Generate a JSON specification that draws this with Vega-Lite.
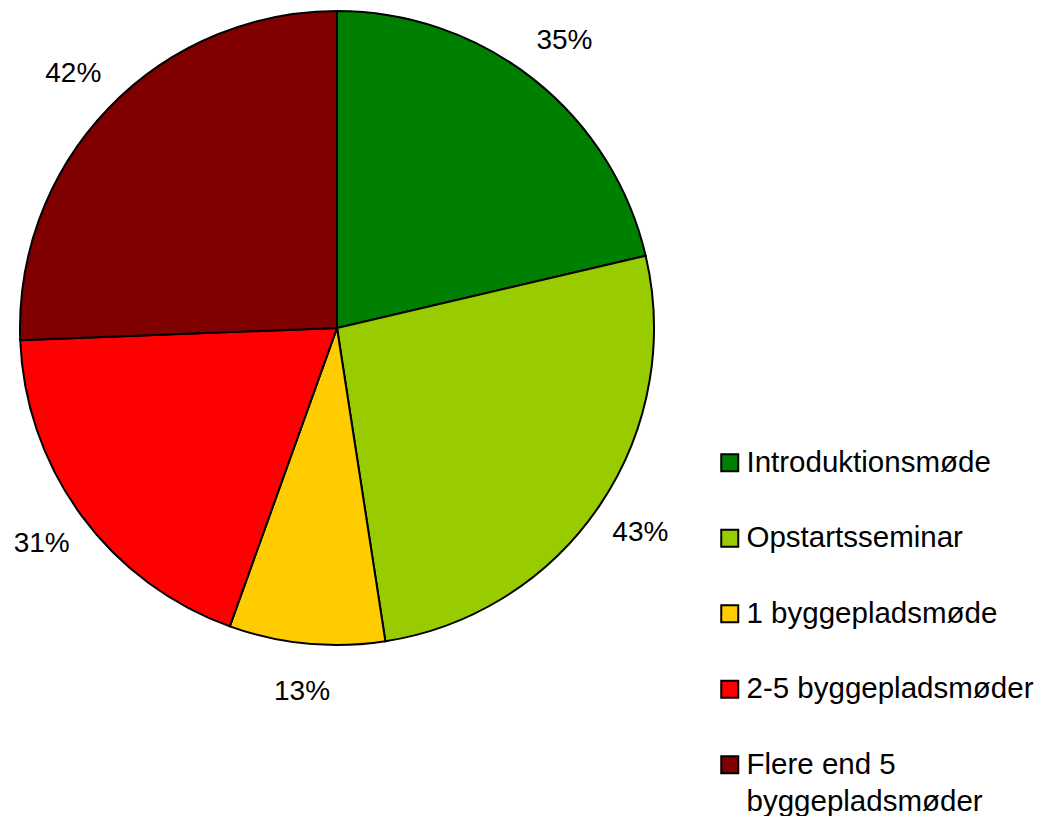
{
  "$schema": "https://vega.github.io/schema/vega-lite/v6.json",
  "width": 674,
  "height": 656,
  "padding": 0,
  "background": "white",
  "config": {"view": {"stroke": null}, "font": "Liberation Sans", "style": {"guide-label": {"lineHeight": 37}}},
  "data": {
    "values": [
      {"category": "Introduktionsmøde", "value": 35, "label": "35%", "order": 1},
      {"category": "Opstartsseminar", "value": 43, "label": "43%", "order": 2},
      {"category": "1 byggepladsmøde", "value": 13, "label": "13%", "order": 3},
      {"category": "2-5 byggepladsmøder", "value": 31, "label": "31%", "order": 4},
      {"category": "Flere end 5 byggepladsmøder", "value": 42, "label": "42%", "order": 5}
    ]
  },
  "encoding": {
    "theta": {"field": "value", "type": "quantitative", "stack": true},
    "order": {"field": "order", "type": "quantitative"}
  },
  "layer": [
    {
      "mark": {"type": "arc", "outerRadius": 317, "stroke": "black", "strokeWidth": 2},
      "encoding": {
        "color": {
          "field": "category",
          "type": "nominal",
          "sort": ["Introduktionsmøde", "Opstartsseminar", "1 byggepladsmøde", "2-5 byggepladsmøder", "Flere end 5 byggepladsmøder"],
          "scale": {
            "domain": ["Introduktionsmøde", "Opstartsseminar", "1 byggepladsmøde", "2-5 byggepladsmøder", "Flere end 5 byggepladsmøder"],
            "range": ["#008000", "#99CC00", "#FFCC00", "#FF0000", "#800000"]
          },
          "legend": {
            "title": null,
            "orient": "none",
            "legendX": 715,
            "legendY": 448,
            "symbolType": "square",
            "symbolSize": 289,
            "symbolStrokeColor": "black",
            "symbolStrokeWidth": 2,
            "symbolOpacity": 1,
            "labelFontSize": 29.5,
            "labelFont": "Liberation Sans",
            "labelColor": "black",
            "labelOffset": 2,
            "labelLimit": 400,
            "rowPadding": 44.5,
            "labelBaseline": "middle",
            "labelExpr": "datum.label == 'Flere end 5 byggepladsmøder' ? ['Flere end 5', 'byggepladsmøder'] : datum.label"
          }
        }
      }
    },
    {
      "mark": {"type": "text", "radius": 366, "fontSize": 28, "font": "Liberation Sans", "color": "black"},
      "encoding": {"text": {"field": "label", "type": "nominal"}}
    }
  ]
}
